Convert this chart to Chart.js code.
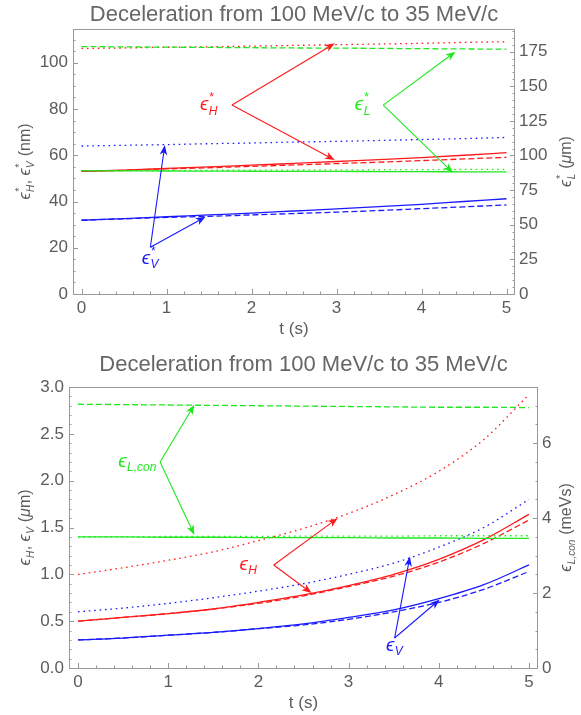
<!DOCTYPE html>
<html>
<head>
<meta charset="utf-8">
<script src="https://cdn.jsdelivr.net/npm/chart.js@4"></script>
<style>
  html, body { margin: 0; padding: 0; background: #fff; }
  #wrap { position: relative; width: 581px; height: 715px; }
  .box { position: absolute; left: 0; width: 581px; }
</style>
</head>
<body>
<div id="wrap">
  <div class="box" style="top:0"><canvas id="topChart" width="581" height="345"></canvas></div>
  <div class="box" style="top:345px"><canvas id="bottomChart" width="581" height="370"></canvas></div>
</div>
<script>
// time samples (s)
const tVals = [0, 0.5, 1, 1.5, 2, 2.5, 3, 3.5, 4, 4.5, 5];

// top panel: normalised emittances, nm (red/blue), um (green)
const topRedSolid    = [53.0, 53.6, 54.3, 55.0, 55.7, 56.5, 57.3, 58.1, 59.0, 60.0, 61.1];
const topRedDashed   = [53.0, 53.5, 54.1, 54.6, 55.2, 55.8, 56.4, 57.0, 57.7, 58.4, 59.1];
const topRedDotted   = [106.2, 106.4, 106.7, 106.9, 107.2, 107.5, 107.8, 108.1, 108.4, 108.8, 109.1];
const topBlueSolid   = [31.9, 32.6, 33.4, 34.2, 35.0, 35.9, 36.8, 37.8, 38.8, 40.0, 41.2];
const topBlueDashed  = [31.9, 32.5, 33.1, 33.6, 34.2, 34.8, 35.4, 36.1, 36.9, 37.7, 38.5];
const topBlueDotted  = [64.0, 64.3, 64.6, 65.0, 65.3, 65.7, 66.0, 66.4, 66.8, 67.2, 67.7];
const topGreenSolid  = [89.0, 88.9, 88.8, 88.7, 88.6, 88.5, 88.5, 88.4, 88.3, 88.2, 88.1];
const topGreenDotted = [89.0, 89.1, 89.2, 89.3, 89.4, 89.5, 89.6, 89.7, 89.8, 89.9, 90.0];
const topGreenDashed = [178.6, 178.4, 178.2, 178.0, 177.8, 177.6, 177.5, 177.3, 177.1, 176.9, 176.7];

// bottom panel: emittances, um (red/blue), meVs (green)
const botRedSolid    = [0.50, 0.54, 0.58, 0.63, 0.70, 0.78, 0.88, 1.00, 1.16, 1.37, 1.64];
const botRedDashed   = [0.50, 0.54, 0.58, 0.63, 0.69, 0.77, 0.87, 0.98, 1.13, 1.33, 1.58];
const botRedDotted   = [1.00, 1.07, 1.15, 1.24, 1.36, 1.49, 1.65, 1.85, 2.10, 2.44, 2.92];
const botBlueSolid   = [0.30, 0.32, 0.35, 0.38, 0.42, 0.47, 0.54, 0.62, 0.74, 0.89, 1.10];
const botBlueDashed  = [0.30, 0.32, 0.35, 0.38, 0.42, 0.46, 0.52, 0.60, 0.70, 0.84, 1.03];
const botBlueDotted  = [0.60, 0.64, 0.69, 0.75, 0.82, 0.90, 1.00, 1.12, 1.29, 1.50, 1.80];
const botGreenSolid  = [3.50, 3.50, 3.49, 3.49, 3.48, 3.48, 3.48, 3.47, 3.47, 3.46, 3.46];
const botGreenDotted = [3.50, 3.50, 3.51, 3.51, 3.51, 3.52, 3.52, 3.52, 3.53, 3.53, 3.53];
const botGreenDashed = [7.04, 7.03, 7.02, 7.01, 7.00, 6.99, 6.98, 6.97, 6.96, 6.96, 6.95];

// tick labels
const xTicks       = [0, 1, 2, 3, 4, 5];
const topLeftTicks = [0, 20, 40, 60, 80, 100];
const topRightTicks = [0, 25, 50, 75, 100, 125, 150, 175];
const botLeftTicks = [0, 0.5, 1.0, 1.5, 2.0, 2.5, 3.0];
const botRightTicks = [0, 2, 4, 6];

const TITLE = 'Deceleration from 100 MeV/c to 35 MeV/c';
const FONT = '"Liberation Sans", Arial, "DejaVu Sans", sans-serif';
const TXT = '#5c5c5c';
const FRAME = '#999999';
const RED = '#ff1a1a', GREEN = '#1fe81f', BLUE = '#1a1aff';

function minors(lo, hi, step, majors) {
  const out = [];
  for (let v = lo; v <= hi + 1e-9; v += step) {
    const r = Math.round(v * 1000) / 1000;
    if (!majors.some(m => Math.abs(m - r) < 1e-6)) out.push(r);
  }
  return out;
}

function line(data, color, style, axis) {
  return {
    data: tVals.map((t, i) => ({ x: t, y: data[i] })),
    borderColor: color,
    borderWidth: 1.3,
    borderDash: style === 'dash' ? [6, 3] : style === 'dot' ? [1.6, 3.8] : [],
    pointRadius: 0,
    cubicInterpolationMode: 'monotone',
    yAxisID: axis,
    fill: false
  };
}

// math-ish text: segments {b, sup, sub, it}
function segFont(size, it) { return (it ? 'italic ' : '') + size + 'px ' + FONT; }
function mathWidth(ctx, segs, size) {
  let w = 0;
  segs.forEach(s => {
    ctx.font = segFont(size, s.it);
    w += ctx.measureText(s.b).width;
    if (s.sup || s.sub) {
      ctx.font = segFont(Math.round(size * 0.62), s.it);
      const a = s.sup ? ctx.measureText(s.sup).width : 0;
      const b = s.sub ? ctx.measureText(s.sub).width : 0;
      w += Math.max(a, b) + 1;
    }
  });
  return w;
}
function drawMath(ctx, segs, x, y, size) {
  ctx.textBaseline = 'middle';
  ctx.textAlign = 'left';
  segs.forEach(s => {
    ctx.font = segFont(size, s.it);
    ctx.fillText(s.b, x, y);
    x += ctx.measureText(s.b).width;
    if (s.sup || s.sub) {
      const small = Math.round(size * 0.62);
      ctx.font = segFont(small, s.it);
      let w = 0;
      if (s.sup) { ctx.fillText(s.sup, x + 0.5, y - size * 0.38); w = ctx.measureText(s.sup).width; }
      if (s.sub) { ctx.fillText(s.sub, x + 0.5, y + size * 0.32); w = Math.max(w, ctx.measureText(s.sub).width); }
      x += w + 1;
    }
  });
}

function arrow(ctx, x0, y0, x1, y1) {
  const ang = Math.atan2(y1 - y0, x1 - x0), L = 10, W = 3.8;
  const c = Math.cos(ang), s = Math.sin(ang);
  const bx = x1 - L * c, by = y1 - L * s;
  ctx.beginPath();
  ctx.moveTo(x0, y0);
  ctx.lineTo(x1 - 6 * c, y1 - 6 * s);
  ctx.stroke();
  ctx.beginPath();
  ctx.moveTo(x1, y1);
  ctx.lineTo(bx - W * s, by + W * c);
  ctx.lineTo(x1 - 0.72 * L * c, y1 - 0.72 * L * s);
  ctx.lineTo(bx + W * s, by - W * c);
  ctx.closePath();
  ctx.fill();
}

function makeDecor(cfg) {
  return {
    id: 'decor',
    afterDraw(chart) {
      const { ctx, chartArea: a, scales } = chart;
      ctx.save();
      // frame
      ctx.strokeStyle = FRAME;
      ctx.lineWidth = 1;
      ctx.strokeRect(a.left + 0.5, a.top + 0.5, a.right - a.left - 1, a.bottom - a.top);
      // inward ticks
      const mark = (scale, vals, side, len) => {
        vals.forEach(v => {
          const p = Math.round(scale.getPixelForValue(v)) + 0.5;
          ctx.beginPath();
          if (side === 'bottom') { ctx.moveTo(p, a.bottom); ctx.lineTo(p, a.bottom - len); }
          else if (side === 'left') { ctx.moveTo(a.left, p); ctx.lineTo(a.left + len, p); }
          else { ctx.moveTo(a.right, p); ctx.lineTo(a.right - len, p); }
          ctx.stroke();
        });
      };
      mark(scales.x, xTicks, 'bottom', 5);
      mark(scales.x, minors(0, 5, 0.2, xTicks), 'bottom', 2.5);
      mark(scales.y, cfg.leftTicks, 'left', 5);
      mark(scales.y, cfg.leftMinor, 'left', 2.5);
      mark(scales.y1, cfg.rightTicks, 'right', 5);
      mark(scales.y1, cfg.rightMinor, 'right', 2.5);

      // title
      ctx.fillStyle = '#666';
      ctx.font = '22px ' + FONT;
      ctx.textAlign = 'center';
      ctx.textBaseline = 'middle';
      ctx.fillText(TITLE, (a.left + a.right) / 2, cfg.titleY);

      // axis titles
      ctx.fillStyle = TXT;
      ctx.font = '17px ' + FONT;
      ctx.fillText('t (s)', (a.left + a.right) / 2, a.bottom + 35);
      const cy = (a.top + a.bottom) / 2;
      [[cfg.leftTitle, 26], [cfg.rightTitle, 567]].forEach(([segs, x]) => {
        const w = mathWidth(ctx, segs, 16);
        ctx.save();
        ctx.translate(x, cy);
        ctx.rotate(-Math.PI / 2);
        drawMath(ctx, segs, -w / 2, 0, 16);
        ctx.restore();
      });

      // annotations
      cfg.notes.forEach(n => {
        const X = v => scales.x.getPixelForValue(v);
        const Y = v => scales.y.getPixelForValue(v);
        ctx.fillStyle = n.color;
        ctx.strokeStyle = n.color;
        ctx.lineWidth = 1.1;
        const w = mathWidth(ctx, n.text, 19);
        drawMath(ctx, n.text, X(n.at[0]) - w / 2, Y(n.at[1]), 19);
        n.to.forEach(p => arrow(ctx, X(n.from[0]), Y(n.from[1]), X(p[0]), Y(p[1])));
      });
      ctx.restore();
    }
  };
}

function makeChart(id, cfg) {
  return new Chart(document.getElementById(id), {
    type: 'line',
    data: { datasets: cfg.datasets },
    options: {
      responsive: false,
      animation: false,
      layout: { padding: { top: cfg.padTop, left: 0, right: 0, bottom: 0 } },
      plugins: { legend: { display: false }, title: { display: false }, tooltip: { enabled: false } },
      scales: {
        x: {
          type: 'linear', min: -0.1, max: 5.1,
          afterBuildTicks: s => { s.ticks = xTicks.map(v => ({ value: v })); },
          afterFit: s => { s.height = cfg.xHeight; },
          grid: { display: false, drawTicks: false }, border: { display: false },
          ticks: { color: TXT, font: { family: FONT, size: 17 }, padding: 4, maxRotation: 0, autoSkip: false }
        },
        y: {
          position: 'left', min: 0, max: cfg.leftMax,
          afterBuildTicks: s => { s.ticks = cfg.leftTicks.map(v => ({ value: v })); },
          afterFit: s => { s.width = cfg.leftWidth; },
          grid: { display: false, drawTicks: false }, border: { display: false },
          ticks: { color: TXT, font: { family: FONT, size: 17 }, padding: 5, autoSkip: false, callback: cfg.leftFmt }
        },
        y1: {
          position: 'right', min: 0, max: cfg.rightMax,
          afterBuildTicks: s => { s.ticks = cfg.rightTicks.map(v => ({ value: v })); },
          afterFit: s => { s.width = cfg.rightWidth; },
          grid: { display: false, drawTicks: false }, border: { display: false },
          ticks: { color: TXT, font: { family: FONT, size: 17 }, padding: 4, autoSkip: false }
        }
      }
    },
    plugins: [makeDecor(cfg)]
  });
}

const EPS = '\u03F5';

makeChart('topChart', {
  padTop: 29, xHeight: 51, leftWidth: 73, rightWidth: 66,
  leftMax: 114.6, rightMax: 191.3, titleY: 15,
  leftTicks: topLeftTicks, leftMinor: minors(0, 110, 5, topLeftTicks),
  rightTicks: topRightTicks, rightMinor: minors(0, 190, 5, topRightTicks),
  leftFmt: v => String(v),
  leftTitle: [{ b: EPS, sup: '*', sub: 'H', it: true }, { b: ', ' }, { b: EPS, sup: '*', sub: 'V', it: true }, { b: ' (nm)' }],
  rightTitle: [{ b: EPS, sup: '*', sub: 'L', it: true }, { b: ' (' }, { b: '\u03BC', it: true }, { b: 'm)' }],
  datasets: [
    line(topGreenDashed, GREEN, 'dash', 'y1'),
    line(topGreenDotted, GREEN, 'dot', 'y1'),
    line(topGreenSolid, GREEN, 'solid', 'y1'),
    line(topRedDotted, RED, 'dot', 'y'),
    line(topRedDashed, RED, 'dash', 'y'),
    line(topRedSolid, RED, 'solid', 'y'),
    line(topBlueDotted, BLUE, 'dot', 'y'),
    line(topBlueDashed, BLUE, 'dash', 'y'),
    line(topBlueSolid, BLUE, 'solid', 'y')
  ],
  notes: [
    { color: RED, text: [{ b: EPS, sup: '*', sub: 'H', it: true }], at: [1.50, 81.7], from: [1.77, 81.7], to: [[2.98, 108.4], [2.98, 57.9]] },
    { color: GREEN, text: [{ b: EPS, sup: '*', sub: 'L', it: true }], at: [3.31, 81.7], from: [3.55, 81.7], to: [[4.40, 104.8], [4.37, 52.4]] },
    { color: BLUE, text: [{ b: EPS, sup: '*', sub: 'V', it: true }], at: [0.81, 15.2], from: [0.81, 20.2], to: [[0.98, 64.4], [1.46, 33.4]] }
  ]
});

makeChart('bottomChart', {
  padTop: 42, xHeight: 47, leftWidth: 69, rightWidth: 43,
  leftMax: 3.0, rightMax: 7.5, titleY: 20,
  leftTicks: botLeftTicks, leftMinor: minors(0, 3, 0.1, botLeftTicks),
  rightTicks: botRightTicks, rightMinor: minors(0, 7.5, 0.5, botRightTicks),
  leftFmt: v => v.toFixed(1),
  leftTitle: [{ b: EPS, sub: 'H', it: true }, { b: ', ' }, { b: EPS, sub: 'V', it: true }, { b: ' (' }, { b: '\u03BC', it: true }, { b: 'm)' }],
  rightTitle: [{ b: EPS, sub: 'L,con', it: true }, { b: ' (meVs)' }],
  datasets: [
    line(botGreenDashed, GREEN, 'dash', 'y1'),
    line(botGreenDotted, GREEN, 'dot', 'y1'),
    line(botGreenSolid, GREEN, 'solid', 'y1'),
    line(botRedDotted, RED, 'dot', 'y'),
    line(botRedDashed, RED, 'dash', 'y'),
    line(botRedSolid, RED, 'solid', 'y'),
    line(botBlueDotted, BLUE, 'dot', 'y'),
    line(botBlueDashed, BLUE, 'dash', 'y'),
    line(botBlueSolid, BLUE, 'solid', 'y')
  ],
  notes: [
    { color: GREEN, text: [{ b: EPS, sub: 'L,con', it: true }], at: [0.66, 2.20], from: [0.91, 2.20], to: [[1.29, 2.81], [1.29, 1.42]] },
    { color: RED, text: [{ b: EPS, sub: 'H', it: true }], at: [1.89, 1.10], from: [2.17, 1.10], to: [[2.88, 1.60], [2.59, 0.80]] },
    { color: BLUE, text: [{ b: EPS, sub: 'V', it: true }], at: [3.51, 0.24], from: [3.51, 0.32], to: [[3.68, 1.19], [4.01, 0.73]] }
  ]
});
</script>
</body>
</html>
